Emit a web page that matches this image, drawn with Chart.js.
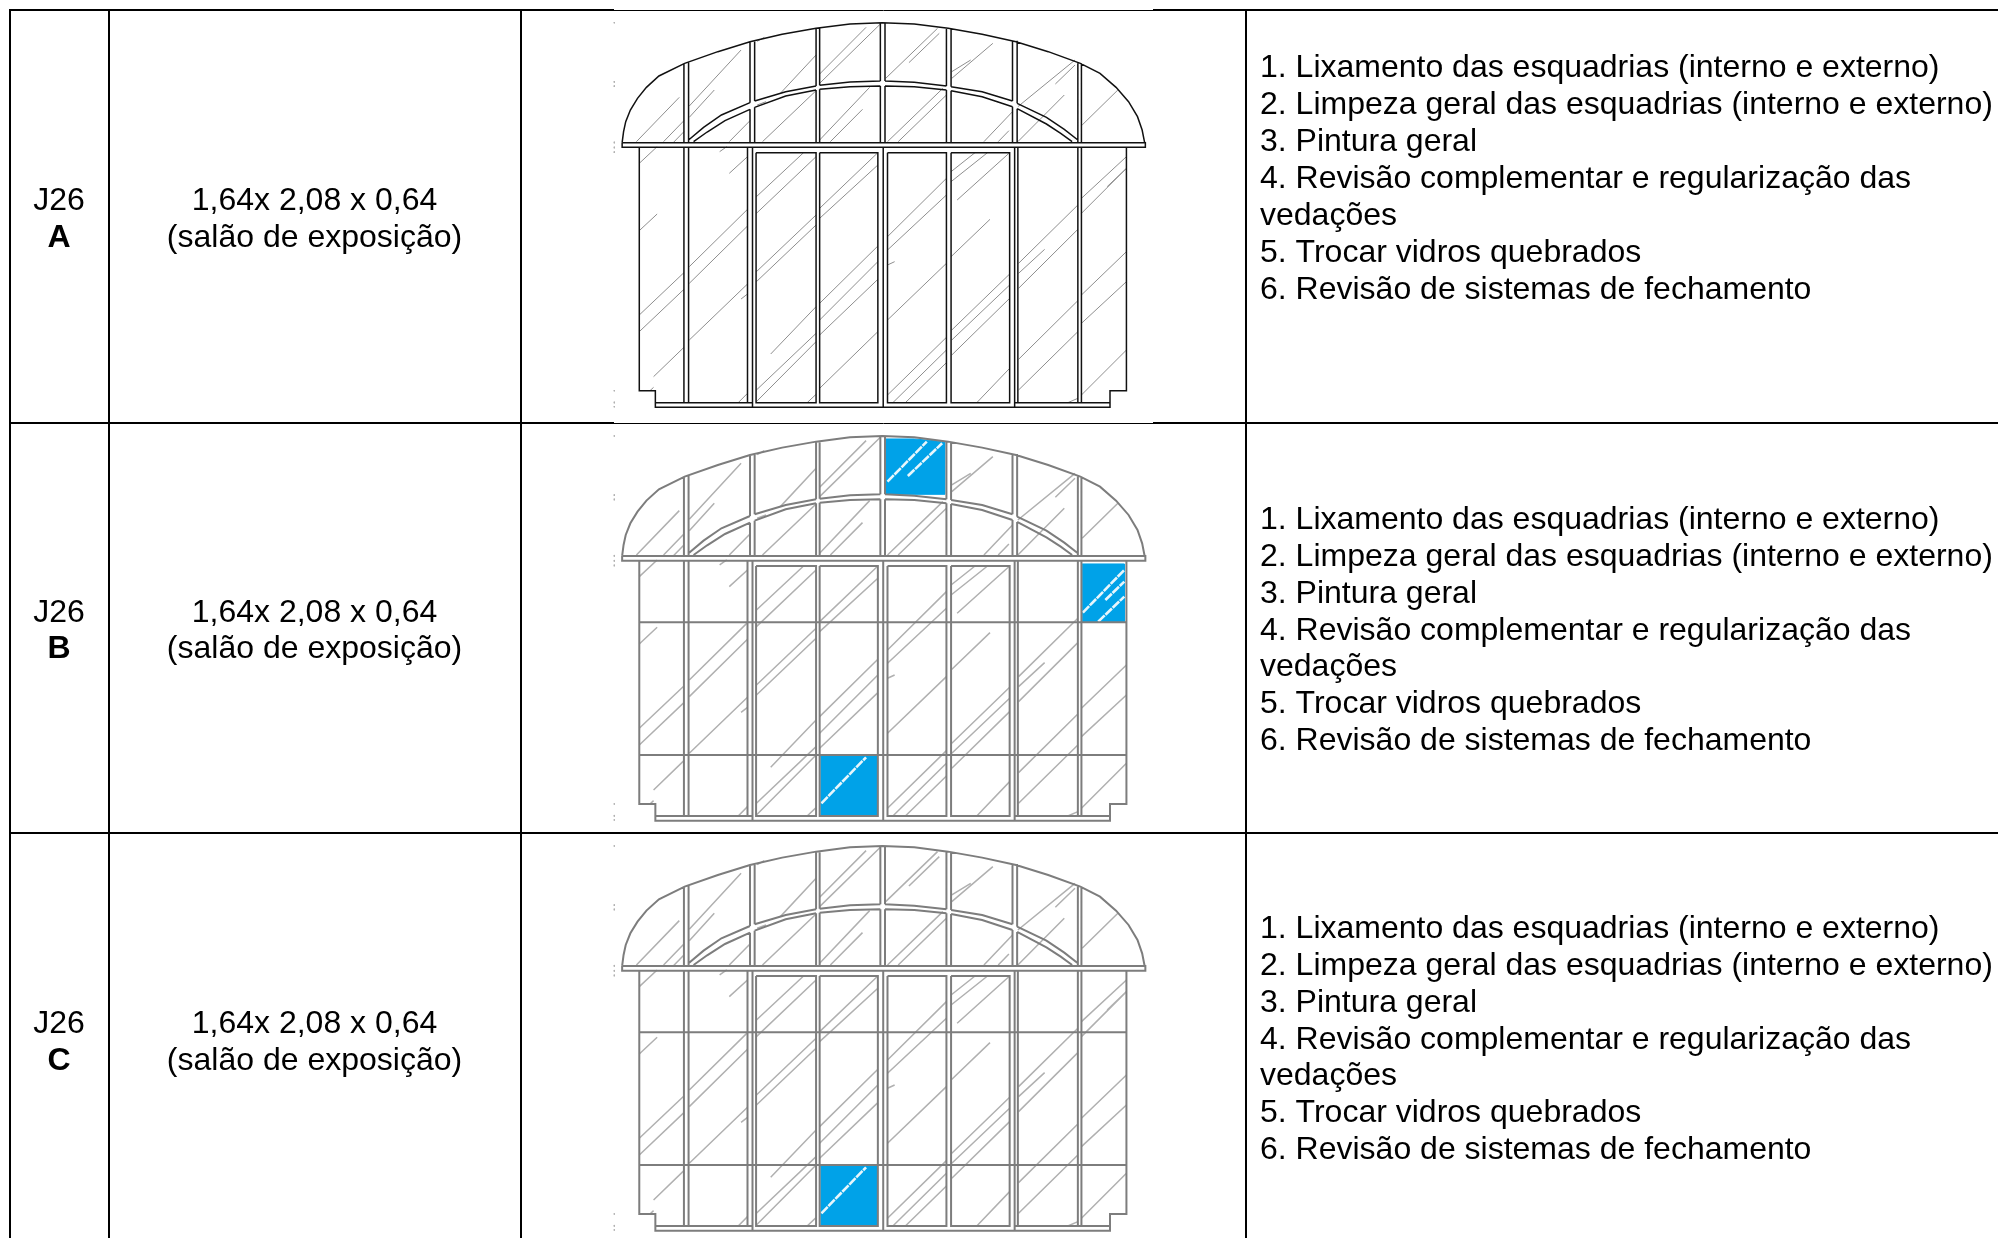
<!DOCTYPE html>
<html>
<head>
<meta charset="utf-8">
<title>Esquadrias J26</title>
<script src="https://cdn.jsdelivr.net/npm/chart.js@4"></script>
<style>
  html, body { margin: 0; padding: 0; background: #fff; }
  canvas { display: block; }
</style>
</head>
<body>
<canvas id="myChart" width="1998" height="1238"></canvas>
<script>
// text of the table
const rowCodes = ['J26', 'J26', 'J26'];
const rowLetters = ['A', 'B', 'C'];
const sizeText = ['1,64x 2,08 x 0,64', '(salão de exposição)'];
const tasks = [
  '1. Lixamento das esquadrias (interno e externo)',
  '2. Limpeza geral das esquadrias (interno e externo)',
  '3. Pintura geral',
  '4. Revisão complementar e regularização das',
  'vedações',
  '5. Trocar vidros quebrados',
  '6. Revisão de sistemas de fechamento'
];

// table rules, in page pixels
const columnRules = [10, 109, 521, 1246];
const rowCodeY = [201.5, 613, 1024];
const rowLetterY = [238.5, 649.5, 1061];
const rowTaskY = [68.5, 520, 929];

// window drawing, in its own units (x = 2.8 per px, y = 3 per px)
const outerArc = [[62,428],[66,395],[72,365],[85,330],[105,295],[130,262],[165,228],[237,190],[330,155],[420,125],[510,103],[605,85],[700,72],[790,68],[880,72],[975,85],[1070,103],[1165,125],[1255,155],[1345,190],[1400,220],[1445,262],[1480,305],[1505,350],[1518,390],[1525,428]];
const upperArcRuns = [
  [[248,420],[290,382],[340,345],[420,308]],
  [[433,303],[520,275],[605,258]],
  [[615,256],[700,246],[785,243]],
  [[798,243],[880,247],[970,258]],
  [[983,260],[1070,275],[1155,303]],
  [[1168,310],[1250,352],[1300,388],[1338,420]]
];
const lowerArcRuns = [
  [[262,425],[300,396],[350,362],[420,328]],
  [[433,322],[520,288],[605,270]],
  [[615,268],[700,260],[785,258]],
  [[798,258],[880,260],[970,270]],
  [[983,272],[1070,290],[1155,320]],
  [[1168,326],[1250,372],[1290,400],[1322,425]]
];
const outline = [[[62,428],[62,442],[1527,442],[1527,428],[62,428]],
  [[110,442],[110,1172],[155,1172],[155,1222],[1428,1222],[1428,1172],[1474,1172],[1474,442]],
  [[155,1208],[427,1208]], [[1161,1208],[1428,1208]],
  [[427,442],[427,1222]], [[1161,442],[1161,1222]], [[793,442],[793,1222]]
];
const paneRects = [
  [248,442,413,1208], [437,458,605,1208], [615,458,778,1208],
  [805,458,970,1208], [983,458,1147,1208], [1170,442,1338,1208]
];
const mullions = [
  [235,192,428],[235,442,1208],[248,188,428],[1338,190,428],[1338,442,1208],[1348,190,428],[1348,442,1208],
  [420,125,308],[420,328,428],[433,122,303],[433,322,428],
  [605,85,258],[605,270,428],[615,85,256],[615,268,428],
  [785,68,243],[785,258,428],[798,68,243],[798,258,428],
  [970,85,258],[970,270,428],[983,85,260],[983,272,428],
  [1155,125,303],[1155,320,428],[1168,122,310],[1168,326,428]
];
const transoms = [[112,627,1472,627],[112,1025,1472,1025]];
const glassLines = [
  [102,425,222,292],[178,425,235,362],[205,428,235,395],[250,318,395,150],[250,352,320,270],
  [362,425,420,362],[440,124,460,112],[440,315,465,305],[455,425,605,272],[505,280,605,165],
  [615,250,785,72],[615,222,745,82],[615,420,755,262],[645,425,735,328],[800,235,945,85],
  [865,188,950,100],[805,425,960,265],[835,425,970,285],[985,235,1100,130],[985,215,1038,180],
  [1075,425,1155,335],[1115,425,1145,392],[1170,320,1330,180],[1170,425,1300,285],[1275,252,1330,195],
  [1350,375,1450,270],
  [110,490,160,440],[362,520,413,470],[335,455,355,440],[110,692,160,642],[250,800,413,628],
  [250,850,413,678],[110,945,235,818],[110,995,235,868],[250,1020,413,852],[395,897,413,882],
  [150,1130,235,1042],[140,1172,150,1162],[387,1208,413,1180],
  [438,590,570,458],[438,640,605,470],[438,815,605,645],[438,845,605,675],[478,1062,605,920],
  [438,1170,605,1000],[438,1205,605,1025],[580,1208,605,1183],
  [615,625,778,458],[615,655,778,495],[615,910,778,738],[615,960,778,785],[615,1005,778,838],[615,1165,778,995],
  [805,710,970,535],[805,750,970,585],[805,795,825,785],[805,960,970,790],[805,1185,970,1012],
  [820,1208,970,1050],[855,1208,970,1088],
  [983,515,1050,458],[983,545,1085,458],[1000,600,1147,458],[983,770,1092,658],[985,990,1147,822],
  [985,1020,1147,855],[985,1065,1147,895],[1055,1208,1147,1105],
  [1172,790,1338,615],[1172,820,1245,748],[1172,865,1338,688],[1172,1078,1338,902],[1172,1170,1338,995],[1310,1208,1338,1195],
  [1348,595,1474,470],[1348,640,1474,505],[1420,560,1474,505],[1348,885,1474,755],[1348,970,1474,845],[1348,1185,1474,1050]
];
const specks = [[40,66,40,70],[40,243,40,248],[40,256,40,261],[40,425,40,430],[40,440,40,445],[40,454,40,459],[40,1170,40,1174],[40,1205,40,1210],[40,1218,40,1222]];

// blue panes per row
const bluePanesB = [
  [[800,77],[880,77],[965,85],[965,243],[800,243]],
  [[1350,452],[1468,452],[1468,625],[1350,625]],
  [[617,1028],[777,1028],[777,1207],[617,1207]]
];
const bluePanesC = [
  [[617,1028],[777,1028],[777,1207],[617,1207]]
];
const blueGlassB = [[805,205,915,85],[862,188,958,90],[1352,598,1468,470],[1415,560,1468,505],[1395,625,1468,550],[620,1170,745,1032]];
const blueGlassC = [[620,1170,745,1032]];
// grey glass lines that are replaced by the white ones above
const coveredB = ['800,235,945,85', '865,188,950,100', '1348,595,1474,470', '1348,640,1474,505', '1420,560,1474,505', '615,1165,778,995'];
const coveredC = ['615,1165,778,995'];

const windowY = [0, 413.3, 823.3];

// local drawing units to page pixels
const toPoint = (p, yOff) => ({ x: 600 + p[0] / 2.8, y: yOff + p[1] / 3 });
const gap = { x: null, y: null };

function runsToData(runs, yOff) {
  const out = [];
  runs.forEach(run => {
    run.forEach(p => out.push(toPoint(p, yOff)));
    out.push(gap);
  });
  return out;
}
const segsToRuns = segs => segs.map(s => [[s[0], s[1]], [s[2], s[3]]]);
const rectsToRuns = rects => rects.map(r => [[r[0],r[1]],[r[2],r[1]],[r[2],r[3]],[r[0],r[3]],[r[0],r[1]]]);
const mullionsToRuns = list => list.map(m => [[m[0], m[1]], [m[0], m[2]]]);

function lineSet(data, color, width) {
  return { data, borderColor: color, borderWidth: width, pointRadius: 0, showLine: true, fill: false, tension: 0, borderCapStyle: 'butt' };
}

const datasets = [];

// page rules
const ruleRuns = [];
columnRules.forEach(x => { ruleRuns.push({ x, y: 9 }, { x, y: 1238 }, gap); });
[[10, 9, 614], [10, 1153, 1998], [423, 9, 614], [423, 1153, 1998], [833, 9, 1998]].forEach(r => {
  ruleRuns.push({ x: r[1], y: r[0] }, { x: r[2], y: r[0] }, gap);
});
datasets.push(lineSet(ruleRuns, '#000', 2));
datasets.push(lineSet([{ x: 614, y: 10.5 }, { x: 1153, y: 10.5 }, gap, { x: 614, y: 423.5 }, { x: 1153, y: 423.5 }], '#000', 1));

// the three windows
windowY.forEach((yOff, i) => {
  const dark = i === 0;
  const frameColor = dark ? '#111' : '#7d7d7d';
  const frameWidth = dark ? 1.5 : 2;
  const frame = [].concat(outline, rectsToRuns(paneRects), mullionsToRuns(mullions), upperArcRuns, lowerArcRuns, [outerArc]);
  if (!dark) frame.push(...segsToRuns(transoms));
  datasets.push(lineSet(runsToData(frame, yOff), frameColor, frameWidth));
  let covered = [];
  if (i > 0) {
    covered = i === 1 ? coveredB : coveredC;
    const white = lineSet(runsToData(segsToRuns(i === 1 ? blueGlassB : blueGlassC), yOff), '#e8f6fc', 2.6);
    white.borderDash = [9, 1];
    datasets.push(white);
    (i === 1 ? bluePanesB : bluePanesC).forEach(pane => {
      const d = lineSet(pane.map(p => toPoint(p, yOff)), '#00a2e8', 1);
      d.fill = 'shape';
      d.backgroundColor = '#00a2e8';
      d.order = 5;
      datasets.push(d);
    });
  }
  const visibleGlass = glassLines.filter(l => !covered.includes(l.join(',')));
  datasets.push(lineSet(runsToData(segsToRuns(visibleGlass), yOff), dark ? '#8e8e8e' : '#b0b0b0', dark ? 1 : 1.5));
  datasets.push(lineSet(runsToData(segsToRuns(specks), yOff), '#b0b0b0', 1));
});

// table text goes through the same scales as the rules
const tableText = {
  id: 'tableText',
  afterDraw(chart) {
    const { ctx, scales: { x, y } } = chart;
    ctx.save();
    ctx.fillStyle = '#000';
    ctx.textBaseline = 'middle';
    const px = v => x.getPixelForValue(v);
    const py = v => y.getPixelForValue(v);
    rowCodes.forEach((code, i) => {
      ctx.textAlign = 'center';
      ctx.font = '32px "Liberation Sans"';
      ctx.fillText(code, px(59), py(rowCodeY[i]));
      ctx.fillText(sizeText[0], px(314.5), py(rowCodeY[i]));
      ctx.fillText(sizeText[1], px(314.5), py(rowLetterY[i]));
      ctx.font = 'bold 32px "Liberation Sans"';
      ctx.fillText(rowLetters[i], px(59), py(rowLetterY[i]));
      ctx.textAlign = 'left';
      ctx.font = '32px "Liberation Sans"';
      tasks.forEach((t, k) => ctx.fillText(t, px(1260), py(rowTaskY[i] + k * 36.9)));
    });
    ctx.restore();
  }
};

new Chart(document.getElementById('myChart').getContext('2d'), {
  type: 'scatter',
  data: { datasets },
  plugins: [tableText],
  options: {
    responsive: false,
    animation: false,
    events: [],
    layout: { padding: 0 },
    plugins: { legend: { display: false }, tooltip: { enabled: false } },
    scales: {
      x: { type: 'linear', min: 0, max: 1998, display: false },
      y: { type: 'linear', min: 0, max: 1238, reverse: true, display: false }
    }
  }
});
</script>
</body>
</html>
